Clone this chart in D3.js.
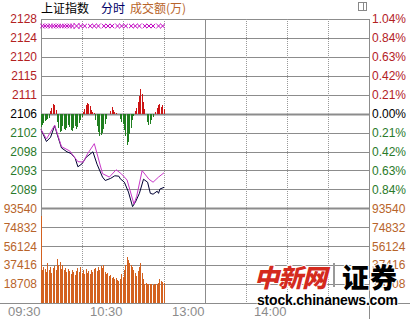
<!DOCTYPE html>
<html>
<head>
<meta charset="utf-8">
<script src="https://cdn.jsdelivr.net/npm/d3@7"></script>
<style>
	body{margin:0;background:#fff;}
	svg{display:block;}
</style>
</head>
<body>
<svg id="chart" width="410" height="319"></svg>
<script>
// tick labels as printed on the chart
var priceLabels = ['2128','2124','2120','2115','2111','2106','2102','2098','2093','2089']
var pctLabels = ['1.04%','0.84%','0.63%','0.42%','0.21%','0.00%','0.21%','0.42%','0.63%','0.84%']
var volTicks = [93540, 74832, 56124, 37416, 18708]
var timeTicks = [0, 60, 120, 180]
var timeLabels = ['09:30','10:30','13:00','14:00']
var prevClose = 2106.5
var pctStep = 4.42

// index line (minute since 09:30, value)
var priceMinutes = [0, 4, 7, 10, 12, 15, 19, 22, 25, 27, 30, 33, 38, 41, 45, 47, 51, 54, 57, 58, 61, 64, 67, 69, 72, 75, 78, 80, 82, 85, 86, 87, 90]
var priceValues = [2102.8, 2100.0, 2101.0, 2103.7, 2101.5, 2098.5, 2097.6, 2097.2, 2096.1, 2094.1, 2094.8, 2096.3, 2097.6, 2094.7, 2091.7, 2090.9, 2091.4, 2092.0, 2091.9, 2091.3, 2090.5, 2088.2, 2084.8, 2085.8, 2087.9, 2091.2, 2090.5, 2087.9, 2087.7, 2088.4, 2087.9, 2088.9, 2089.3]

// second (magenta) line
var avgMinutes = [0, 4, 10, 15, 21, 27, 31, 34, 39, 45, 50, 55, 59, 63, 68, 70, 74, 79, 82, 86, 90]
var avgValues = [2102.8, 2100.6, 2103.8, 2098.8, 2097.8, 2095.3, 2095.2, 2097.1, 2099.5, 2092.5, 2091.7, 2093.4, 2092.4, 2091.0, 2085.4, 2087.2, 2093.2, 2091.2, 2090.5, 2091.7, 2092.7]

// red / green strength bars, one per minute
var strength = [-13, -11, -9, -7, -6, -5, -4,
	3, 6, 10, 9, 4,
	-8, -14, -18, -17, -12, -15, -16, -14, -11, -13, -16, -17, -14, -12, -15, -13, -9, -6, -3,
	2, 5, 9, 11, 10, 8, 4, 2, 1,
	-6, -12, -18, -22, -21, -19, -15, -10, -5,
	0, 0,
	3, 7, 4, 2, 1,
	0, 0,
	-5, -8, -10, -16, -22, -31, -28, -20, -14, -6, -2,
	3, 6, 12, 18, 25, 20, 12, 5,
	0,
	-8, -11, -10, -6, -3,
	0, 2,
	6, 9, 10, 7, 9, 5]

// turnover per minute (万)
var volume = [86000, 33000, 36000, 34000, 31000, 40000, 33000, 36000, 30000, 35000,
	37000, 33000, 43500, 38000, 41000, 34000, 38000, 33000, 35000, 31000,
	34000, 32000, 29000, 33000, 31000, 28000, 32000, 35000, 31000, 36000,
	30000, 33000, 29000, 34000, 30000, 32000, 29000, 33000, 31000, 34000,
	35000, 32000, 36000, 33000, 37000, 35000, 37500, 31000, 29000, 30000,
	27000, 28000, 25000, 26000, 24000, 25000, 23000, 22000, 24000, 29000,
	26000, 33000, 38000, 45500, 42000, 40000, 38000, 36000, 33000, 30000,
	27000, 32000, 36000, 39500, 30000, 24000, 19000, 19500, 18500, 19000,
	18500, 19000, 18000, 18700, 19000, 18500, 20000, 23500, 22000, 21000, 19500]

// event marks along the top
var markMinutes = [1, 3, 5, 7, 9, 11, 13, 15, 17, 19, 21, 23, 29, 32, 36, 39, 42, 46, 49, 52, 56, 59, 62, 66, 69, 72, 76, 79, 82, 86, 89]
var bigMark = 26

function draw(){
	var svg = d3.select('svg#chart')
	var W = 410, left = 41, right = 369, top = 19, bottom = 303
	var rowH = (bottom - top) / 15
	var font = '"Liberation Sans", Arial, sans-serif'
	var cjk = '"Noto Sans CJK SC", sans-serif'
	var gridColor = '#8c8c8c'

	var x = d3.scaleLinear().domain([0, 240]).range([left, right])
	var priceTicks = d3.range(10).map(function(i){return prevClose + (5 - i) * pctStep})
	var y = d3.scaleLinear()
		.domain([prevClose - 4 * pctStep, prevClose + 5 * pctStep])
		.range([top + 9 * rowH, top])
	var yVol = d3.scaleLinear()
		.domain([0, volTicks[0]])
		.range([bottom, top + 10 * rowH])
	var yStr = d3.scaleLinear()
		.domain([-30, 30])
		.range([y(prevClose) + 30, y(prevClose) - 30])

	function labelColor(i){
		if(i < 5) return '#b3211f'
		if(i === 5) return '#000'
		return '#2a7a2a'
	}

	// horizontal grid
	svg.append('g').selectAll('line')
		.data(priceTicks)
		.enter().append('line')
		.attr('x1', left).attr('x2', right)
		.attr('y1', function(d){return Math.round(y(d)) + 0.5})
		.attr('y2', function(d){return Math.round(y(d)) + 0.5})
		.style('stroke', gridColor)
		.style('stroke-width', function(d, i){return i === 5 ? 2 : 1})
	svg.append('g').selectAll('line')
		.data(volTicks)
		.enter().append('line')
		.attr('x1', left).attr('x2', right)
		.attr('y1', function(d){return Math.round(yVol(d)) + 0.5})
		.attr('y2', function(d){return Math.round(yVol(d)) + 0.5})
		.style('stroke', gridColor)
		.style('stroke-width', function(d, i){return i === 0 ? 2 : 1})
	svg.append('line')
		.attr('x1', 0).attr('x2', W)
		.attr('y1', bottom + 0.5).attr('y2', bottom + 0.5)
		.style('stroke', gridColor)

	// vertical grid
	var vTicks = d3.range(0, 241, 30)
	svg.append('g').selectAll('line')
		.data(vTicks)
		.enter().append('line')
		.attr('x1', function(d){return Math.round(x(d)) + 0.5})
		.attr('x2', function(d){return Math.round(x(d)) + 0.5})
		.attr('y1', top)
		.attr('y2', function(d){return d === 240 ? 319 : bottom})
		.style('stroke', function(d){return d % 120 === 0 ? gridColor : '#999'})
		.style('stroke-dasharray', function(d){return d % 120 === 0 ? null : '1,1'})

	// volume bars
	svg.append('g').selectAll('rect')
		.data(volume)
		.enter().append('rect')
		.attr('x', function(d, i){return Math.floor(x(i))})
		.attr('y', function(d){return yVol(d)})
		.attr('width', 1)
		.attr('height', function(d){return bottom - yVol(d)})
		.attr('shape-rendering', 'crispEdges')
		.style('fill', '#d3611f')

	// strength bars
	svg.append('g').selectAll('rect')
		.data(strength)
		.enter().append('rect')
		.attr('x', function(d, i){return Math.floor(x(i))})
		.attr('y', function(d){return Math.min(yStr(d), yStr(0))})
		.attr('width', 1)
		.attr('height', function(d){return Math.abs(yStr(d) - yStr(0))})
		.attr('shape-rendering', 'crispEdges')
		.style('fill', function(d){return d > 0 ? '#cc1414' : '#1f7f1f'})

	// lines
	var priceData = priceMinutes.map(function(m, i){return [m, priceValues[i]]})
	var avgData = avgMinutes.map(function(m, i){return [m, avgValues[i]]})
	var line = d3.line()
		.x(function(d){return x(d[0])})
		.y(function(d){return y(d[1])})
	svg.append('path')
		.datum(priceData)
		.attr('d', line)
		.style('fill', 'none')
		.style('stroke', '#000033')
		.style('stroke-width', 1)
	svg.append('path')
		.datum(avgData)
		.attr('d', line)
		.style('fill', 'none')
		.style('stroke', '#c838c8')
		.style('stroke-width', 1)

	// marks on top row
	var markY = top + 7
	svg.append('g').selectAll('path')
		.data(markMinutes)
		.enter().append('path')
		.attr('transform', function(d){return 'translate(' + x(d) + ',' + markY + ')'})
		.attr('d', d3.symbol().type(d3.symbolX).size(14))
		.style('stroke', '#c000c0')
		.style('stroke-width', 1)
		.style('fill', 'none')
	svg.append('path')
		.attr('transform', 'translate(' + x(bigMark) + ',' + markY + ')')
		.attr('d', d3.symbol().type(d3.symbolX).size(26))
		.style('stroke', '#c000c0')
		.style('stroke-width', 1)
		.style('fill', 'none')

	// axes
	var axL = svg.append('g')
		.attr('transform', 'translate(38,0)')
		.call(d3.axisLeft(y).tickValues(priceTicks).tickSize(0).tickPadding(1)
			.tickFormat(function(d, i){return priceLabels[i]}))
	var axR = svg.append('g')
		.attr('transform', 'translate(371,0)')
		.call(d3.axisRight(y).tickValues(priceTicks).tickSize(0).tickPadding(1)
			.tickFormat(function(d, i){return pctLabels[i]}))
	;[axL, axR].forEach(function(ax){
		ax.select('.domain').remove()
		ax.attr('font-family', font).attr('font-size', 12)
		ax.selectAll('text').style('fill', function(d, i){return labelColor(i)})
	})

	var vL = svg.append('g')
		.attr('transform', 'translate(38,0)')
		.call(d3.axisLeft(yVol).tickValues(volTicks).tickSize(0).tickPadding(1).tickFormat(d3.format('d')))
	var vR = svg.append('g')
		.attr('transform', 'translate(371,0)')
		.call(d3.axisRight(yVol).tickValues(volTicks).tickSize(0).tickPadding(1).tickFormat(d3.format('d')))
	;[vL, vR].forEach(function(ax){
		ax.select('.domain').remove()
		ax.attr('font-family', font).attr('font-size', 12)
		ax.selectAll('text').style('fill', '#b8642a')
	})

	var axB = svg.append('g')
		.attr('transform', 'translate(0,' + bottom + ')')
		.call(d3.axisBottom(x).tickValues(timeTicks).tickSize(0).tickPadding(4)
			.tickFormat(function(d, i){return timeLabels[i]}))
	axB.select('.domain').remove()
	axB.attr('font-family', font).attr('font-size', 13)
	axB.selectAll('text')
		.attr('text-anchor', 'end')
		.attr('dx', -1)
		.style('fill', '#8c8c8c')

	// header
	var head = svg.append('text')
		.attr('x', left)
		.attr('y', 13)
		.attr('font-family', cjk)
		.attr('font-size', 12)
	head.append('tspan').text('上证指数').style('fill', '#000')
	head.append('tspan').attr('x', 101).text('分时').style('fill', '#000066')
	head.append('tspan').attr('x', 130).text('成交额(万)').style('fill', '#b8642a')

	// small toggle icon
	svg.append('rect')
		.attr('x', 358.5).attr('y', 2.5).attr('width', 8).attr('height', 8)
		.style('fill', '#fff').style('stroke', '#888')
	svg.append('line')
		.attr('x1', 363.5).attr('x2', 363.5).attr('y1', 2.5).attr('y2', 10.5)
		.style('stroke', '#888')

	// watermark (drawn over the right-hand volume labels, as in the source image)
	var wm = svg.append('g')
	wm.append('text')
		.attr('x', 254).attr('y', 287)
		.attr('font-family', cjk).attr('font-size', 25).attr('font-weight', 900)
		.attr('font-style', 'italic')
		.attr('textLength', 73)
		.style('fill', '#d42a1e')
		.style('stroke', '#fff').style('stroke-width', 2).style('paint-order', 'stroke')
		.text('中新网')
	wm.append('rect')
		.attr('x', 333).attr('y', 263).attr('width', 2).attr('height', 24)
		.style('fill', '#999')
	wm.append('text')
		.attr('x', 342).attr('y', 288)
		.attr('font-family', cjk).attr('font-size', 27).attr('font-weight', 900)
		.attr('textLength', 55)
		.style('fill', '#000')
		.style('stroke', '#fff').style('stroke-width', 2).style('paint-order', 'stroke')
		.text('证券')
	wm.append('text')
		.attr('x', 257).attr('y', 305)
		.attr('font-family', font).attr('font-size', 14).attr('font-weight', 'bold')
		.attr('textLength', 141)
		.style('fill', '#000')
		.style('stroke', '#fff').style('stroke-width', 1.5).style('paint-order', 'stroke')
		.text('stock.chinanews.com')
}

draw()
</script>
</body>
</html>
